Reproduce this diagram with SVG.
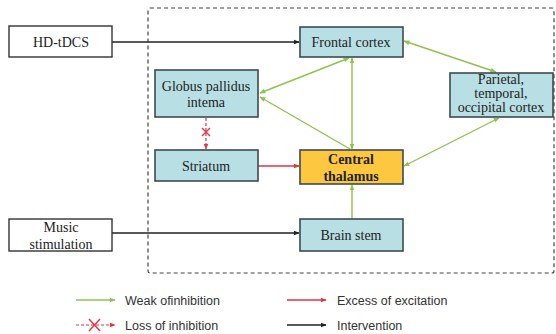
<svg xmlns="http://www.w3.org/2000/svg" width="556" height="334" viewBox="0 0 556 334">
<defs>
<style>
.box{fill:#b8dfe4;stroke:#3c4a50;stroke-width:1.6}
.wbox{fill:#fff;stroke:#333;stroke-width:1.4}
.thal{fill:#fdc83f;stroke:#3c4a50;stroke-width:1.6}
.t{font-family:'Liberation Serif','DejaVu Serif',serif;font-size:14px;fill:#222;text-anchor:middle}
.b{font-weight:bold}
.lg{font-family:'Liberation Sans',Arial,sans-serif;font-size:12.5px;fill:#333}
.g{stroke:#8fc24f;stroke-width:1.4;fill:none}
.r{stroke:#e5333f;stroke-width:1.4;fill:none}
.rd{stroke:#e5333f;stroke-width:1.2;fill:none;stroke-dasharray:3 2}
.k{stroke:#222;stroke-width:1.3;fill:none}
</style>
<marker id="ag" viewBox="0 0 10 10" refX="9" refY="5" markerWidth="6" markerHeight="6" markerUnits="userSpaceOnUse" orient="auto-start-reverse"><path d="M0,1 L10,5 L0,9 z" fill="#8fc24f"/></marker>
<marker id="ar" viewBox="0 0 10 10" refX="9" refY="5" markerWidth="6" markerHeight="6" markerUnits="userSpaceOnUse" orient="auto"><path d="M0,1 L10,5 L0,9 z" fill="#e5333f"/></marker>
<marker id="ak" viewBox="0 0 10 10" refX="9" refY="5" markerWidth="6" markerHeight="6" markerUnits="userSpaceOnUse" orient="auto"><path d="M0,1 L10,5 L0,9 z" fill="#222"/></marker>
</defs>
<rect width="556" height="334" fill="#fff"/>
<rect x="148" y="8" width="406" height="265" rx="2" fill="none" stroke="#444" stroke-width="1.2" stroke-dasharray="4 3"/>
<g id="connectors">
<line class="k" x1="112" y1="42" x2="299" y2="42" marker-end="url(#ak)"/>
<line class="k" x1="112" y1="233" x2="299" y2="233" marker-end="url(#ak)"/>
<line class="g" x1="349" y1="58" x2="260" y2="93" marker-start="url(#ag)" marker-end="url(#ag)"/>
<line class="g" x1="350" y1="149" x2="260" y2="97" marker-end="url(#ag)"/>
<line class="g" x1="352" y1="58" x2="352" y2="149" marker-start="url(#ag)" marker-end="url(#ag)"/>
<line class="g" x1="404" y1="41" x2="496" y2="72" marker-start="url(#ag)" marker-end="url(#ag)"/>
<line class="g" x1="499" y1="118" x2="404" y2="166" marker-start="url(#ag)" marker-end="url(#ag)"/>
<line class="g" x1="352" y1="219" x2="352" y2="185" marker-end="url(#ag)"/>
<line class="r" x1="258" y1="166" x2="299" y2="166" marker-end="url(#ar)"/>
<line class="rd" x1="206" y1="118" x2="206" y2="149" marker-end="url(#ar)"/>
<path class="r" d="M202,128 L210,136 M210,128 L202,136" stroke-width="1.1"/>
</g>
<g id="hd-tdcs"><rect class="wbox" x="9" y="26" width="103" height="31"/><text class="t" x="61" y="46.5">HD-tDCS</text></g>
<g id="music"><rect class="wbox" x="9" y="219" width="103" height="32"/><text class="t" x="61" y="231.5">Music</text><text class="t" x="61" y="248.5">stimulation</text></g>
<g id="globus"><rect class="box" x="155" y="70" width="103" height="47"/><text class="t" x="206" y="90.5">Globus pallidus</text><text class="t" x="206" y="106.5">intema</text></g>
<g id="striatum"><rect class="box" x="155" y="150" width="103" height="31"/><text class="t" x="206" y="170.5">Striatum</text></g>
<g id="frontal"><rect class="box" x="300" y="27" width="103" height="30"/><text class="t" x="351" y="46.5">Frontal cortex</text></g>
<g id="parietal"><rect class="box" x="450" y="73" width="103" height="44"/><text class="t" x="501" y="84">Parietal,</text><text class="t" x="501" y="98">temporal,</text><text class="t" x="501" y="112">occipital cortex</text></g>
<g id="thalamus"><rect class="thal" x="300" y="150" width="103" height="34"/><text class="t b" x="351" y="163.5">Central</text><text class="t b" x="351" y="180.5">thalamus</text></g>
<g id="brainstem"><rect class="box" x="300" y="219" width="103" height="32"/><text class="t" x="351" y="239.5">Brain stem</text></g>
<g id="legend">
<line class="g" x1="76" y1="300" x2="115" y2="300" marker-end="url(#ag)"/>
<text class="lg" x="125" y="304.5">Weak ofinhibition</text>
<line class="rd" x1="76" y1="325" x2="115" y2="325" marker-end="url(#ar)"/>
<path class="r" d="M89,319 L100,331 M100,319 L89,331" stroke-width="1.2"/>
<text class="lg" x="125" y="329.5">Loss of inhibition</text>
<line class="r" x1="287" y1="300" x2="326" y2="300" marker-end="url(#ar)"/>
<text class="lg" x="337" y="304.5">Excess of excitation</text>
<line class="k" x1="287" y1="325" x2="326" y2="325" marker-end="url(#ak)"/>
<text class="lg" x="337" y="329.5">Intervention</text>
</g>
</svg>
